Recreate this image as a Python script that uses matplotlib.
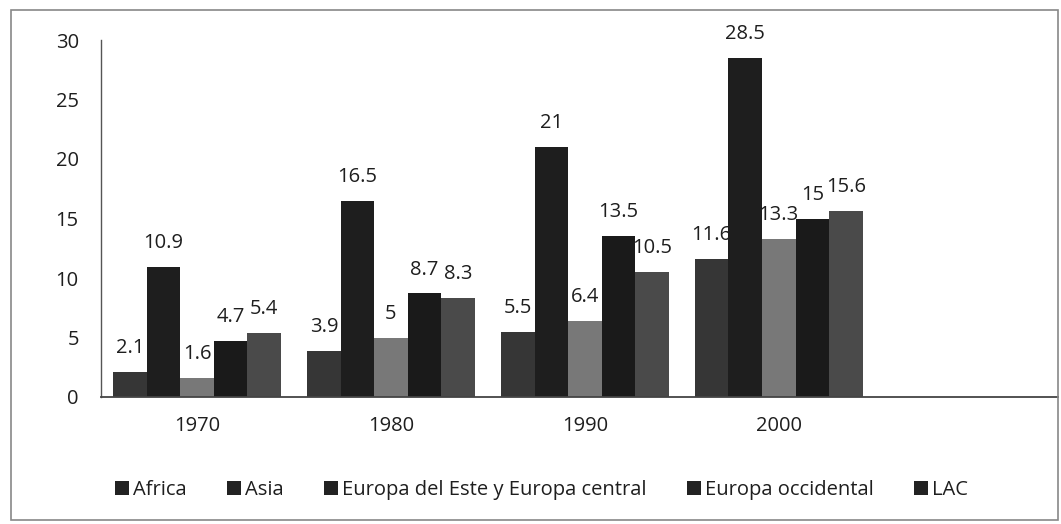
import matplotlib
matplotlib.use("Agg")
import matplotlib.pyplot as plt
import numpy as np
from matplotlib.patches import Rectangle

years = ["1970", "1980", "1990", "2000"]
series_names = ["Africa", "Asia", "Europa del Este y Europa central", "Europa occidental", "LAC"]
africa = [2.1, 3.9, 5.5, 11.6]
asia = [10.9, 16.5, 21, 28.5]
europa_este = [1.6, 5, 6.4, 13.3]
europa_occ = [4.7, 8.7, 13.5, 15]
lac = [5.4, 8.3, 10.5, 15.6]
series_values = [africa, asia, europa_este, europa_occ, lac]
colors = ["#363636", "#1e1e1e", "#787878", "#1a1a1a", "#4a4a4a"]

plt.rcParams['font.family'] = ['Open Sans', 'DejaVu Sans']

fig = plt.figure(figsize=(10.61, 5.24), dpi=100)
ax = fig.add_axes([101/1061, 1 - 397/524, (1058-101)/1061, (397-40)/524])

x = np.arange(len(years))
n = len(series_names)
bw = 0.173
for i, (name, vals, c) in enumerate(zip(series_names, series_values, colors)):
    pos = x + (i - (n - 1) / 2) * bw
    bars = ax.bar(pos, vals, width=bw, color=c, label=name)
    for b, v in zip(bars, vals):
        ax.annotate(f"{v:g}", (b.get_x() + b.get_width() / 2, v),
                    xytext=(0, 10), textcoords="offset points",
                    ha="center", va="bottom", fontsize=14.5, color="#1e1e1e")

ax.set_xlim(-0.495, 4.44)
ax.set_ylim(0, 30)
ax.set_yticks([0, 5, 10, 15, 20, 25, 30])
ax.set_xticks(x)
ax.set_xticklabels(years)
ax.tick_params(axis="both", length=0, labelsize=14.5, colors="#1e1e1e")
ax.tick_params(axis="y", pad=16)
ax.tick_params(axis="x", pad=14)
for s in ["top", "right"]:
    ax.spines[s].set_visible(False)
ax.spines["left"].set_color("#555555")
ax.spines["left"].set_linewidth(1.0)
ax.spines["bottom"].set_color("#444444")
ax.spines["bottom"].set_linewidth(1.3)

leg = ax.legend(loc="center", bbox_to_anchor=(0.46, -0.26), ncol=5, frameon=False,
                fontsize=14.5, handlelength=0.7, handleheight=0.7, handletextpad=0.2,
                columnspacing=2.0, borderpad=0)
for h in leg.legend_handles:
    h.set_facecolor("#222222")
for t in leg.get_texts():
    t.set_color("#1e1e1e")

fig.patches.append(Rectangle((11/1061, 1 - 520/524), (1058-11)/1061, (520-10)/524,
                             transform=fig.transFigure, fill=False,
                             edgecolor="#888888", linewidth=1.2))

fig.savefig("out.png", dpi=100)
